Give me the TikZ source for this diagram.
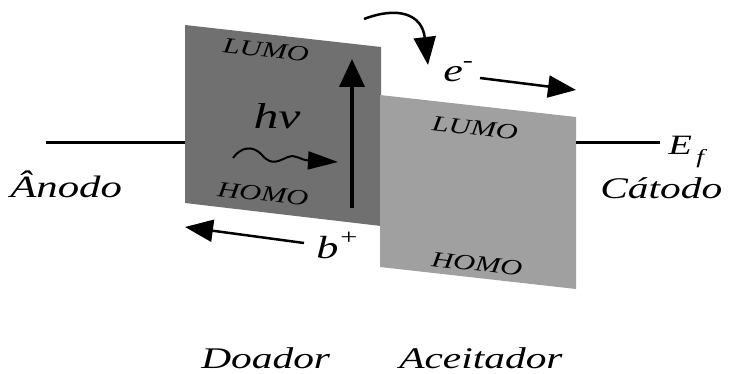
\documentclass[tikz,border=0pt]{standalone}
\usepackage{fontspec}
\setmainfont{Liberation Serif}[ItalicFont={Liberation Serif Italic}]
\usetikzlibrary{arrows.meta}
\definecolor{donorgray}{RGB}{112,112,112}
\definecolor{accgray}{RGB}{160,160,160}
\begin{document}
\begin{tikzpicture}[x=1pt,y=-1pt,
  txt/.style={inner sep=0pt, xscale=1.38, font=\fontsize{#1}{#1}\selectfont\itshape},
  band/.style={rotate=-6.4, txt=22},
  wire/.style={line width=3pt},
  thick arrow/.style={line width=2.5pt, -{Triangle[length=28pt,width=22pt]}}]
\useasboundingbox[fill=white] (0,0) rectangle (730,374);
% panels
\coordinate (d1) at (185,25); \coordinate (d2) at (381,47);
\coordinate (d3) at (381,226); \coordinate (d4) at (185,203);
\coordinate (a1) at (380,95); \coordinate (a2) at (576,117);
\coordinate (a3) at (576,289); \coordinate (a4) at (380,267);
\fill[donorgray] (d1) -- (d2) -- (d3) -- (d4) -- cycle;
\fill[accgray] (a1) -- (a2) -- (a3) -- (a4) -- cycle;
% electrode wires
\coordinate (lw) at (46,143); \coordinate (lwe) at (185,143);
\coordinate (rw) at (576,143); \coordinate (rwe) at (660,143);
\draw[wire] (lw) -- (lwe);
\draw[wire] (rw) -- (rwe);
% labels
\node[txt=31, anchor=base west] (anodo) at (10,197) {Ânodo};
\node[txt=30, anchor=base west] (catodo) at (600,198) {Cátodo};
\node[txt=30, anchor=base west] (doador) at (201,368) {Doador};
\node[txt=30, anchor=base west] (aceit) at (399,368) {Aceitador};
\node[txt=28, anchor=base west] (ef) at (668,155) {E\raisebox{-9pt}{\fontsize{20}{20}\selectfont\,f}};
\node[band] (dlumo) at (266,50) {LUMO};
\node[band] (dhomo) at (263,194) {HOMO};
\node[band] (alumo) at (475,128) {LUMO};
\node[band] (ahomo) at (477,264) {HOMO};
\node[txt=36] (hv) at (277,116) {hv};
\node[txt=32, anchor=base west] (e) at (443,82) {e\raisebox{14pt}{\fontsize{22}{22}\selectfont -}};
\node[txt=32, anchor=base west] (b) at (316,258) {b\raisebox{14pt}{\fontsize{22}{22}\selectfont +}};
% up arrow (excitation)
\coordinate (u0) at (352,208); \coordinate (u1) at (352,59);
\draw[line width=4pt, -{Triangle[length=28pt,width=25pt]}] (u0) -- (u1);
% photon wavy arrow
\coordinate (w0) at (233,158); \coordinate (w1) at (338,162);
\draw[line width=2pt, -{Triangle[length=30pt,width=18pt]}]
  (w0) .. controls (240,148) and (252,144) .. (262,155)
  .. controls (272,167) and (280,160) .. (288,157)
  .. controls (296,154) and (300,160) .. (w1);
% curved electron transfer arrow
\coordinate (c0) at (364,19); \coordinate (c1) at (428,65);
\draw[thick arrow] (c0) .. controls (398,6) and (422,14) .. (c1);
% electron arrow
\coordinate (ea0) at (480,78); \coordinate (ea1) at (576,90);
\draw[thick arrow] (ea0) -- (ea1);
% hole arrow
\coordinate (h0) at (304,243); \coordinate (h1) at (185,227);
\draw[thick arrow] (h0) -- (h1);
\end{tikzpicture}
\end{document}
